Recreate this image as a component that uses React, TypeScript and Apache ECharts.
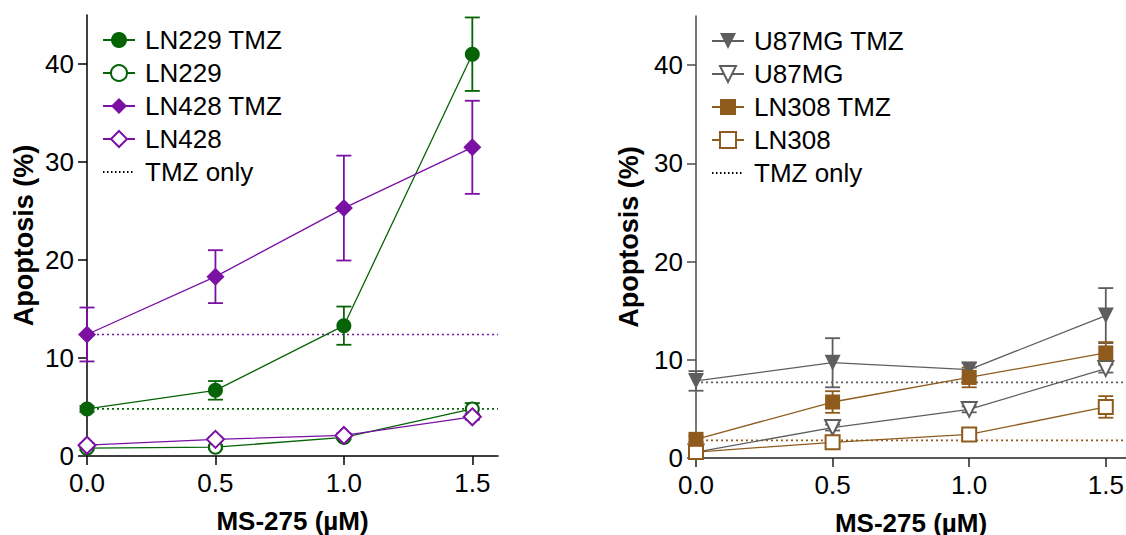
import React, { useEffect, useRef } from "react";
import * as echarts from "echarts";

// ---------- data ----------
const doses = [0, 0.5, 1.0, 1.5];
const xTicks = [0, 0.5, 1.0, 1.5];
const yTicks = [0, 10, 20, 30, 40];

// left panel
const ln229TmzMean = [4.8, 6.7, 13.3, 41.0];
const ln229TmzErr = [0.3, 0.95, 1.95, 3.75];
const ln229Mean = [0.8, 0.9, 1.9, 4.8];
const ln229Err = [0.2, 0.2, 0.2, 0.6];
const ln428TmzMean = [12.4, 18.3, 25.3, 31.5];
const ln428TmzErr = [2.75, 2.7, 5.35, 4.75];
const ln428Mean = [1.1, 1.7, 2.1, 4.0];
const ln428Err = [0.2, 0.2, 0.2, 0.3];
const ln229TmzOnly = 4.8;
const ln428TmzOnly = 12.4;

// right panel
const u87TmzMean = [7.85, 9.7, 9.0, 14.5];
const u87TmzErr = [1.0, 2.5, 0.7, 2.8];
const u87Mean = [0.6, 3.1, 4.95, 9.1];
const u87Err = [0.2, 0.3, 0.3, 0.4];
const ln308TmzMean = [1.9, 5.7, 8.2, 10.7];
const ln308TmzErr = [0.3, 1.1, 1.0, 1.1];
const ln308Mean = [0.6, 1.6, 2.4, 5.2];
const ln308Err = [0.2, 0.2, 0.3, 1.1];
const u87TmzOnly = 7.7;
const ln308TmzOnly = 1.8;

const X_MAX_LEFT = 1.6;
const X_MAX_RIGHT = 1.574; // right panel is cut off by the picture's edge
const Y_MAX = 45;

// ---------- styles ----------
const GREEN = "#066306";
const PURPLE = "#7a11a3";
const GRAY = "#5e5e5e";
const BROWN = "#8f5b1d";
const FONT = "Liberation Sans, Arial, sans-serif";

const pts = (means: number[]) => doses.map((d, i) => [d, means[i]]);
const errPts = (means: number[], errs: number[]) =>
  doses.map((d, i) => [d, means[i] - errs[i], means[i] + errs[i]]);

function errorSeries(gi: number, color: string, means: number[], errs: number[]) {
  return {
    type: "custom",
    xAxisIndex: gi,
    yAxisIndex: gi,
    z: 2,
    silent: true,
    clip: false,
    encode: { x: 0, y: [1, 2] },
    data: errPts(means, errs),
    renderItem: (params: any, api: any) => {
      const x = api.value(0);
      const lo = api.coord([x, api.value(1)]);
      const hi = api.coord([x, api.value(2)]);
      const hw = 7.5;
      const st = { stroke: color, lineWidth: 1.8 };
      return {
        type: "group",
        children: [
          { type: "line", shape: { x1: lo[0], y1: lo[1], x2: hi[0], y2: hi[1] }, style: st },
          { type: "line", shape: { x1: hi[0] - hw, y1: hi[1], x2: hi[0] + hw, y2: hi[1] }, style: st },
          { type: "line", shape: { x1: lo[0] - hw, y1: lo[1], x2: lo[0] + hw, y2: lo[1] }, style: st },
        ],
      };
    },
  };
}

function lineSeries(
  gi: number,
  name: string,
  color: string,
  means: number[],
  symbol: string,
  size: number,
  rotate = 0
) {
  const empty = symbol.startsWith("empty");
  return {
    type: "line",
    name,
    xAxisIndex: gi,
    yAxisIndex: gi,
    z: 3,
    data: pts(means),
    symbol,
    symbolSize: size,
    symbolRotate: rotate,
    showAllSymbol: true,
    lineStyle: { color, width: 1.3 },
    itemStyle: empty
      ? { color, borderColor: color, borderWidth: 3 }
      : { color, borderColor: color, borderWidth: 0 },
    emphasis: { disabled: true },
  };
}

function baseline(gi: number, color: string, v: number, xMax: number) {
  return {
    type: "line",
    name: "_base" + gi + color,
    xAxisIndex: gi,
    yAxisIndex: gi,
    z: 1,
    data: [
      [0, v],
      [xMax, v],
    ],
    symbol: "none",
    silent: true,
    color,
    lineStyle: { color, width: 1.7, type: [2, 3] },
    emphasis: { disabled: true },
  };
}

function tmzOnlyLegend(gi: number) {
  return {
    type: "line",
    name: "TMZ only",
    xAxisIndex: gi,
    yAxisIndex: gi,
    data: [],
    symbol: "none",
    color: "#000",
    itemStyle: { color: "rgba(0,0,0,0)", borderWidth: 0 },
    lineStyle: { color: "#000", width: 1, type: [1.5, 2.5] },
  };
}

function xAxis(gi: number, color: string, xMax: number) {
  return {
    type: "value",
    gridIndex: gi,
    min: 0,
    max: xMax,
    interval: 0.5,
    name: "MS-275 (µM)",
    nameLocation: "middle",
    nameGap: 52,
    nameTextStyle: { fontFamily: FONT, fontWeight: "bold", fontSize: 26, color: "#000" },
    axisLine: { show: true, lineStyle: { color, width: 1.5 } },
    axisTick: { show: true, length: 9, customValues: xTicks, lineStyle: { color, width: 1.5 } },
    axisLabel: {
      customValues: xTicks,
      margin: 14,
      fontFamily: FONT,
      fontSize: 26,
      color: "#000",
      formatter: (v: number) => v.toFixed(1),
    },
    splitLine: { show: false },
  };
}

function yAxis(gi: number, color: string, nameGap: number) {
  return {
    type: "value",
    gridIndex: gi,
    min: 0,
    max: Y_MAX,
    interval: 10,
    name: "Apoptosis (%)",
    nameLocation: "middle",
    nameGap,
    nameTextStyle: { fontFamily: FONT, fontWeight: "bold", fontSize: 27, color: "#000" },
    axisLine: { show: true, lineStyle: { color, width: 1.5 } },
    axisTick: { show: true, length: 9, customValues: yTicks, lineStyle: { color, width: 1.5 } },
    axisLabel: {
      customValues: yTicks,
      margin: 13,
      fontFamily: FONT,
      fontSize: 26,
      color: "#000",
    },
    splitLine: { show: false },
  };
}

function legend(left: number, top: number, names: string[]) {
  return {
    orient: "vertical",
    left,
    top,
    itemWidth: 32,
    itemHeight: 20,
    itemGap: 5,
    selectedMode: false,
    data: names,
    textStyle: {
      fontFamily: FONT,
      fontSize: 26,
      color: "#000",
      lineHeight: 28,
      padding: [0, 0, 0, 5],
    },
  };
}

export default function App() {
  const ref = useRef<HTMLDivElement>(null);
  useEffect(() => {
    document.body.style.margin = "0";
    if (!ref.current) return;
    const chart = echarts.init(ref.current, undefined, { renderer: "svg" });
    chart.setOption({
      animation: false,
      backgroundColor: "#fff",
      grid: [
        { left: 87, top: 15, right: 628, bottom: 79, outerBoundsMode: "none", containLabel: false },
        { left: 696, top: 16, right: 0, bottom: 77, outerBoundsMode: "none", containLabel: false },
      ],
      xAxis: [xAxis(0, "#000", X_MAX_LEFT), xAxis(1, "#222", X_MAX_RIGHT)],
      yAxis: [yAxis(0, "#000", 50), yAxis(1, "#4a4a4a", 54)],
      legend: [
        legend(97, 21, ["LN229 TMZ", "LN229", "LN428 TMZ", "LN428", "TMZ only"]),
        legend(706, 22, ["U87MG TMZ", "U87MG", "LN308 TMZ", "LN308", "TMZ only"]),
      ],
      series: [
        // left
        baseline(0, GREEN, ln229TmzOnly, X_MAX_LEFT),
        baseline(0, PURPLE, ln428TmzOnly, X_MAX_LEFT),
        errorSeries(0, GREEN, ln229TmzMean, ln229TmzErr),
        errorSeries(0, GREEN, ln229Mean, ln229Err),
        errorSeries(0, PURPLE, ln428TmzMean, ln428TmzErr),
        errorSeries(0, PURPLE, ln428Mean, ln428Err),
        lineSeries(0, "LN229", GREEN, ln229Mean, "emptyCircle", 13),
        lineSeries(0, "LN229 TMZ", GREEN, ln229TmzMean, "circle", 15),
        lineSeries(0, "LN428", PURPLE, ln428Mean, "emptyDiamond", 17),
        lineSeries(0, "LN428 TMZ", PURPLE, ln428TmzMean, "diamond", 18),
        tmzOnlyLegend(0),
        // right
        baseline(1, GRAY, u87TmzOnly, X_MAX_RIGHT),
        baseline(1, BROWN, ln308TmzOnly, X_MAX_RIGHT),
        errorSeries(1, GRAY, u87TmzMean, u87TmzErr),
        errorSeries(1, GRAY, u87Mean, u87Err),
        errorSeries(1, BROWN, ln308TmzMean, ln308TmzErr),
        errorSeries(1, BROWN, ln308Mean, ln308Err),
        lineSeries(1, "U87MG", GRAY, u87Mean, "emptyTriangle", 15, 180),
        lineSeries(1, "U87MG TMZ", GRAY, u87TmzMean, "triangle", 16, 180),
        lineSeries(1, "LN308", BROWN, ln308Mean, "emptyRect", 14),
        lineSeries(1, "LN308 TMZ", BROWN, ln308TmzMean, "rect", 15),
        tmzOnlyLegend(1),
      ],
    });
    return () => chart.dispose();
  }, []);
  return <div ref={ref} style={{ width: 1126, height: 535 }} />;
}
